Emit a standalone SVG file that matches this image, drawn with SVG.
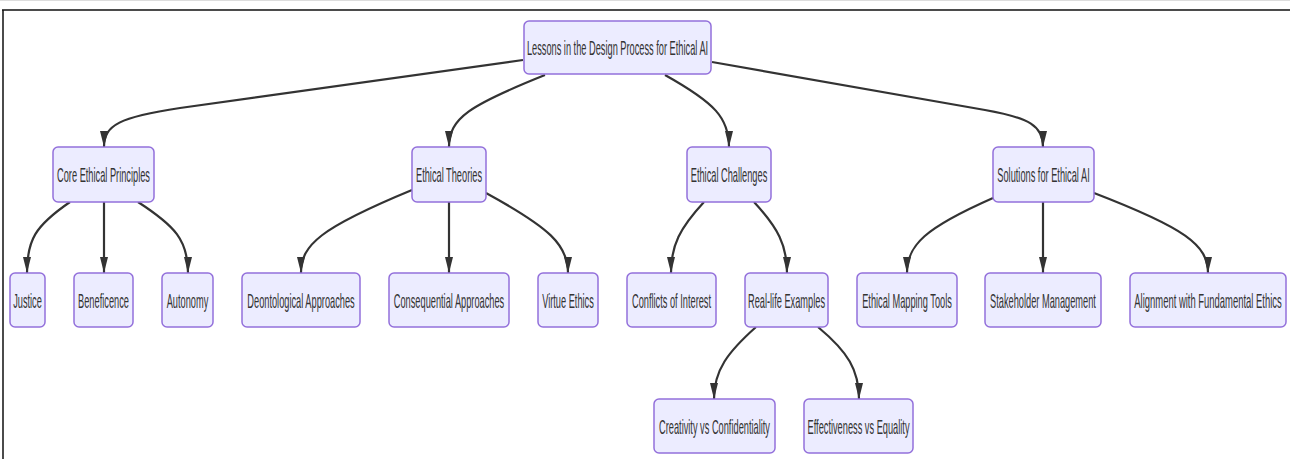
<svg xmlns="http://www.w3.org/2000/svg" width="1290" height="459" viewBox="0 0 1290 459">
<style>
.n rect{fill:#ECECFF;stroke:#9370DB;stroke-width:1.5}
.n text{font-family:"Liberation Sans",Arial,sans-serif;font-size:21px;fill:#333;text-anchor:middle}
.e path{fill:none;stroke:#333;stroke-width:2.2}
</style>
<defs>
<marker id="ah" markerUnits="userSpaceOnUse" viewBox="0 0 16 8" markerWidth="16" markerHeight="8" refX="16" refY="4" orient="auto">
<path d="M0,0 L16,4 L0,8 z" fill="#333"/>
</marker>
</defs>
<rect width="1290" height="459" fill="#fff"/>
<line x1="0" y1="0.5" x2="1290" y2="0.5" stroke="#ddd" stroke-width="1"/>
<path d="M2,10 H1290 M3,10 V459" fill="none" stroke="#111" stroke-width="1.5"/>
<g class="e" id="connectors">
<path marker-end="url(#ah)" d="M523,60 L180,108 C120,117 104,125 104,147"/>
<path marker-end="url(#ah)" d="M545,75 C470,105 449,118 449,147"/>
<path marker-end="url(#ah)" d="M665,75 C715,103 729,118 729,147"/>
<path marker-end="url(#ah)" d="M712,62 L985,110 C1030,118 1043,126 1043,147"/>
<path marker-end="url(#ah)" d="M70,202 C35,226 27,240 27,273"/>
<path marker-end="url(#ah)" d="M104,202 L104,273"/>
<path marker-end="url(#ah)" d="M138,202 C175,226 188,240 188,273"/>
<path marker-end="url(#ah)" d="M412,190 C320,228 301,245 301,273"/>
<path marker-end="url(#ah)" d="M449,202 L449,273"/>
<path marker-end="url(#ah)" d="M486,193 C550,228 568,245 568,273"/>
<path marker-end="url(#ah)" d="M704,202 C680,228 671,245 671,273"/>
<path marker-end="url(#ah)" d="M754,202 C778,228 787,245 787,273"/>
<path marker-end="url(#ah)" d="M993,198 C925,228 907,245 907,273"/>
<path marker-end="url(#ah)" d="M1043,202 L1043,273"/>
<path marker-end="url(#ah)" d="M1094,193 C1185,228 1208,245 1208,273"/>
<path marker-end="url(#ah)" d="M756,327 C728,352 714,370 714,399"/>
<path marker-end="url(#ah)" d="M818,327 C848,352 859,370 859,399"/>
</g>
<g class="n" id="root"><rect x="524" y="21" width="187" height="53" rx="5"/><text transform="matrix(0.44,0,0,1,617.5,55)">Lessons in the Design Process for Ethical AI</text></g>
<g class="n" id="core"><rect x="53" y="147" width="101" height="55" rx="5"/><text transform="matrix(0.44,0,0,1,103.5,182)">Core Ethical Principles</text></g>
<g class="n" id="theories"><rect x="412" y="147" width="74" height="55" rx="5"/><text transform="matrix(0.44,0,0,1,449,182)">Ethical Theories</text></g>
<g class="n" id="challenges"><rect x="687" y="147" width="84" height="55" rx="5"/><text transform="matrix(0.44,0,0,1,729,182)">Ethical Challenges</text></g>
<g class="n" id="solutions"><rect x="993" y="147" width="101" height="55" rx="5"/><text transform="matrix(0.44,0,0,1,1043.5,182)">Solutions for Ethical AI</text></g>
<g class="n" id="justice"><rect x="10" y="273" width="35" height="54" rx="5"/><text transform="matrix(0.44,0,0,1,27.5,308)">Justice</text></g>
<g class="n" id="beneficence"><rect x="74" y="273" width="59" height="54" rx="5"/><text transform="matrix(0.44,0,0,1,103.5,308)">Beneficence</text></g>
<g class="n" id="autonomy"><rect x="162" y="273" width="51" height="54" rx="5"/><text transform="matrix(0.44,0,0,1,187.5,308)">Autonomy</text></g>
<g class="n" id="deontological"><rect x="242" y="273" width="118" height="54" rx="5"/><text transform="matrix(0.44,0,0,1,301,308)">Deontological Approaches</text></g>
<g class="n" id="consequential"><rect x="389" y="273" width="120" height="54" rx="5"/><text transform="matrix(0.44,0,0,1,449,308)">Consequential Approaches</text></g>
<g class="n" id="virtue"><rect x="538" y="273" width="60" height="54" rx="5"/><text transform="matrix(0.44,0,0,1,568,308)">Virtue Ethics</text></g>
<g class="n" id="conflicts"><rect x="627" y="273" width="89" height="54" rx="5"/><text transform="matrix(0.44,0,0,1,671.5,308)">Conflicts of Interest</text></g>
<g class="n" id="reallife"><rect x="745" y="273" width="83" height="54" rx="5"/><text transform="matrix(0.44,0,0,1,786.5,308)">Real-life Examples</text></g>
<g class="n" id="mapping"><rect x="857" y="273" width="100" height="54" rx="5"/><text transform="matrix(0.44,0,0,1,907,308)">Ethical Mapping Tools</text></g>
<g class="n" id="stakeholder"><rect x="985" y="273" width="116" height="54" rx="5"/><text transform="matrix(0.44,0,0,1,1043,308)">Stakeholder Management</text></g>
<g class="n" id="alignment"><rect x="1130" y="273" width="156" height="54" rx="5"/><text transform="matrix(0.45,0,0,1,1208,308)">Alignment with Fundamental Ethics</text></g>
<g class="n" id="creativity"><rect x="654" y="399" width="121" height="54" rx="5"/><text transform="matrix(0.44,0,0,1,714.5,434)">Creativity vs Confidentiality</text></g>
<g class="n" id="effectiveness"><rect x="804" y="399" width="109" height="54" rx="5"/><text transform="matrix(0.44,0,0,1,858.5,434)">Effectiveness vs Equality</text></g>
</svg>
